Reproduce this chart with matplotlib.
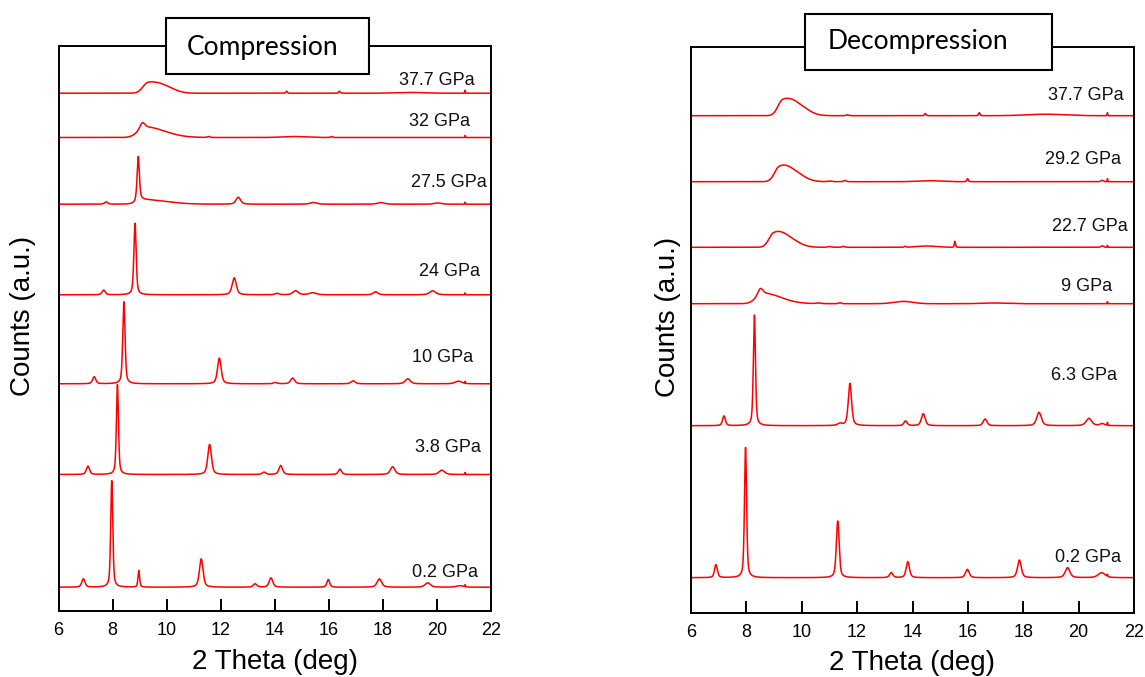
import numpy as np
import matplotlib
matplotlib.use("Agg")
import matplotlib.pyplot as plt
from matplotlib.patches import Rectangle

# ---------------- data ----------------
# Each peak: (2theta position, height above baseline [a.u.], HWHM left, HWHM right, Lorentzian fraction)
x_ticks = [6, 8, 10, 12, 14, 16, 18, 20, 22]

comp_labels = ["0.2 GPa", "3.8 GPa", "10 GPa", "24 GPa", "27.5 GPa", "32 GPa", "37.7 GPa"]
comp_offsets = [23.3, 136.0, 226.7, 315.7, 406.3, 473.0, 517.3]

comp_0_2 = [(6.92, 8.3, 0.07, 0.07, 0.5), (7.97, 106.7, 0.045, 0.045, 0.5), (8.97, 16.7, 0.035, 0.035, 0.5),
            (11.28, 28.3, 0.08, 0.08, 0.5), (13.27, 3.3, 0.08, 0.08, 0.5), (13.86, 9.3, 0.08, 0.08, 0.5),
            (15.98, 7.7, 0.06, 0.06, 0.5), (17.87, 8.3, 0.1, 0.1, 0.5), (19.66, 4.3, 0.12, 0.12, 0.5),
            (20.85, 1.5, 0.15, 0.15, 0.5), (21.04, 2.0, 0.012, 0.012, 0.0)]
comp_3_8 = [(7.09, 8.3, 0.07, 0.07, 0.5), (8.18, 89.7, 0.045, 0.045, 0.5), (11.59, 30.0, 0.08, 0.08, 0.5),
            (13.6, 2.3, 0.08, 0.08, 0.5), (14.22, 9.0, 0.08, 0.08, 0.5), (16.41, 5.3, 0.07, 0.07, 0.5),
            (18.36, 7.7, 0.1, 0.1, 0.5), (20.18, 4.3, 0.12, 0.12, 0.5), (21.04, 2.0, 0.012, 0.012, 0.0)]
comp_10 = [(7.32, 7.0, 0.07, 0.07, 0.5), (8.42, 82.0, 0.05, 0.05, 0.5), (11.95, 25.7, 0.08, 0.08, 0.5),
           (14.02, 1.3, 0.08, 0.08, 0.5), (14.66, 5.7, 0.09, 0.09, 0.5), (16.9, 3.0, 0.09, 0.09, 0.5),
           (18.92, 5.0, 0.11, 0.11, 0.5), (20.79, 2.7, 0.14, 0.14, 0.5), (21.04, 2.0, 0.012, 0.012, 0.0)]
comp_24 = [(7.67, 4.7, 0.07, 0.07, 0.5), (8.83, 71.6, 0.05, 0.05, 0.5), (12.5, 17.0, 0.09, 0.09, 0.5),
           (14.08, 1.5, 0.08, 0.08, 0.5), (14.77, 4.0, 0.12, 0.12, 0.5), (15.4, 2.0, 0.15, 0.15, 0.5),
           (17.73, 3.0, 0.1, 0.1, 0.5), (19.84, 4.0, 0.13, 0.13, 0.5), (21.04, 2.0, 0.012, 0.012, 0.0)]
comp_27_5 = [(7.76, 2.3, 0.07, 0.07, 0.5), (8.95, 44.7, 0.05, 0.05, 0.5), (9.1, 4.5, 0.2, 1.0, 0.0),
             (12.65, 7.0, 0.1, 0.1, 0.5), (15.43, 1.7, 0.15, 0.15, 0.5), (17.92, 1.7, 0.15, 0.15, 0.5),
             (20.03, 1.3, 0.15, 0.15, 0.5), (21.04, 2.0, 0.012, 0.012, 0.0)]
comp_32 = [(9.1, 5.0, 0.1, 0.1, 0.3), (9.2, 10.5, 0.3, 0.85, 0.0), (11.55, 1.0, 0.05, 0.05, 0.5),
           (14.7, 1.0, 0.5, 0.5, 0.0), (16.1, 1.0, 0.04, 0.04, 0.5), (21.04, 2.0, 0.012, 0.012, 0.0)]
comp_37_7 = [(9.3, 9.5, 0.22, 0.35, 0.0), (9.85, 7.5, 0.35, 0.45, 0.0), (14.44, 2.0, 0.03, 0.03, 0.5),
             (16.39, 2.0, 0.03, 0.03, 0.5), (19.0, 0.8, 0.6, 0.6, 0.0), (21.04, 3.0, 0.012, 0.012, 0.0)]
comp_patterns = [comp_0_2, comp_3_8, comp_10, comp_24, comp_27_5, comp_32, comp_37_7]

dec_labels = ["0.2 GPa", "6.3 GPa", "9 GPa", "22.7 GPa", "29.2 GPa", "37.7 GPa"]
dec_offsets = [35.0, 187.0, 309.0, 365.4, 431.0, 497.0]

dec_0_2 = [(6.9, 13.0, 0.06, 0.06, 0.5), (7.97, 130.4, 0.045, 0.045, 0.5), (11.3, 56.7, 0.06, 0.06, 0.5),
           (13.23, 5.0, 0.07, 0.07, 0.5), (13.83, 16.0, 0.07, 0.07, 0.5), (15.98, 8.3, 0.08, 0.08, 0.5),
           (17.86, 17.7, 0.08, 0.08, 0.5), (19.6, 10.0, 0.1, 0.1, 0.5), (20.83, 5.0, 0.15, 0.15, 0.5),
           (21.04, 2.0, 0.012, 0.012, 0.0)]
dec_6_3 = [(7.19, 9.7, 0.06, 0.06, 0.5), (8.29, 110.7, 0.045, 0.045, 0.5), (11.38, 2.0, 0.1, 0.1, 0.5),
           (11.74, 42.3, 0.07, 0.07, 0.5), (13.75, 4.7, 0.07, 0.07, 0.5), (14.39, 12.0, 0.08, 0.08, 0.5),
           (16.62, 6.7, 0.08, 0.08, 0.5), (18.57, 13.3, 0.1, 0.1, 0.5), (20.37, 7.3, 0.12, 0.12, 0.5),
           (20.85, 2.0, 0.1, 0.1, 0.5), (21.04, 3.0, 0.012, 0.012, 0.0)]
dec_9 = [(8.5, 5.5, 0.1, 0.1, 0.3), (8.6, 10.5, 0.28, 0.75, 0.0), (10.6, 0.7, 0.1, 0.1, 0.5),
         (11.38, 1.0, 0.05, 0.05, 0.5), (13.67, 2.3, 0.4, 0.4, 0.0), (16.9, 0.7, 0.5, 0.5, 0.0),
         (21.04, 2.0, 0.012, 0.012, 0.0)]
dec_22_7 = [(8.98, 12.0, 0.2, 0.35, 0.0), (9.45, 9.5, 0.35, 0.45, 0.0), (11.0, 0.7, 0.08, 0.08, 0.5),
            (11.5, 1.0, 0.05, 0.05, 0.5), (13.73, 1.0, 0.03, 0.03, 0.5), (14.5, 1.3, 0.4, 0.4, 0.0),
            (15.53, 6.0, 0.025, 0.025, 0.3), (20.85, 1.5, 0.05, 0.05, 0.5), (21.04, 2.0, 0.012, 0.012, 0.0)]
dec_29_2 = [(9.18, 12.5, 0.2, 0.35, 0.0), (9.65, 10.0, 0.35, 0.45, 0.0), (11.02, 0.7, 0.08, 0.08, 0.5),
            (11.56, 1.3, 0.05, 0.05, 0.5), (14.6, 1.0, 0.5, 0.5, 0.0), (15.99, 3.0, 0.03, 0.03, 0.5),
            (20.85, 1.5, 0.05, 0.05, 0.5), (21.04, 3.0, 0.012, 0.012, 0.0)]
dec_37_7 = [(9.3, 13.5, 0.2, 0.35, 0.0), (9.8, 11.0, 0.35, 0.45, 0.0), (11.65, 1.0, 0.05, 0.05, 0.5),
            (14.46, 2.3, 0.03, 0.03, 0.5), (16.41, 3.0, 0.03, 0.03, 0.5), (18.8, 1.5, 0.8, 0.8, 0.0),
            (21.04, 3.0, 0.012, 0.012, 0.0)]
dec_patterns = [dec_0_2, dec_6_3, dec_9, dec_22_7, dec_29_2, dec_37_7]

# ---------------- drawing ----------------
plt.rcParams['font.family'] = ['Liberation Sans', 'DejaVu Sans']
plt.rcParams['xtick.direction'] = 'in'

two_theta = np.linspace(6, 22, 4001)


def pattern_curve(x, peaks):
    y = np.zeros_like(x)
    for pos, h, wl, wr, eta in peaks:
        w = np.where(x < pos, wl, wr)
        t = (x - pos) / w
        y += h * (eta / (1.0 + t ** 2) + (1.0 - eta) * np.exp(-np.log(2) * t ** 2))
    return y


W, H = 1145, 677
fig = plt.figure(figsize=(W / 100, H / 100), dpi=100)


def px_axes(x0, y0, x1, y1):
    return fig.add_axes([x0 / W, 1 - y1 / H, (x1 - x0) / W, (y1 - y0) / H])


ax1 = px_axes(58.5, 45.7, 491, 610.5)
ax2 = px_axes(691, 47.3, 1134, 612.7)

panels = [
    (ax1, comp_patterns, comp_offsets, comp_labels, 564.8,
     [(20.28, 38.3), (20.41, 162.7), (20.21, 252.7), (20.48, 339.3), (20.45, 428.3), (20.11, 489.3), (19.99, 529.7)]),
    (ax2, dec_patterns, dec_offsets, dec_labels, 565.4,
     [(20.34, 55.4), (20.2, 237.7), (20.27, 326.0), (20.42, 386.0), (20.17, 453.7), (20.25, 517.7)]),
]

for ax, pats, offs, labs, ytop, lab_xy in panels:
    for peaks, off, lab, (lx, ly) in zip(pats, offs, labs, lab_xy):
        ax.plot(two_theta, off + pattern_curve(two_theta, peaks), color='#ff0000', lw=1.1)
        ax.text(lx, ly, lab, ha='center', va='center', fontsize=13, color='#111111')
    ax.set_xlim(6, 22)
    ax.set_ylim(0, ytop)
    ax.set_xticks(x_ticks)
    ax.set_yticks([])
    ax.tick_params(axis='x', which='major', direction='in', length=9, width=1.4,
                   labelsize=13, pad=8, colors='black', bottom=True, top=False)
    for sp in ax.spines.values():
        sp.set_linewidth(1.4)
        sp.set_color('black')

# axis labels
fig.text(23 / W, 1 - 316 / H, "Counts (a.u.)", rotation=90, ha='center', va='center', fontsize=20)
fig.text(668 / W, 1 - 317 / H, "Counts (a.u.)", rotation=90, ha='center', va='center', fontsize=20)
fig.text(274.5 / W, 1 - 662 / H, "2 Theta (deg)", ha='center', va='center', fontsize=20)
fig.text(912 / W, 1 - 663 / H, "2 Theta (deg)", ha='center', va='center', fontsize=20)

# title boxes
for (bx0, by0, bx1, by1), (tx, ty), title in [((165.7, 17.7, 369, 73.7), (263, 47), "Compression"),
                                              ((805, 14, 1052, 70), (918, 42), "Decompression")]:
    rect = Rectangle((bx0 / W, 1 - by1 / H), (bx1 - bx0) / W, (by1 - by0) / H,
                     transform=fig.transFigure, facecolor='white', edgecolor='black', lw=1.5, zorder=5)
    fig.add_artist(rect)
    fig.text(tx / W, 1 - ty / H, title, ha='center', va='center', fontsize=19,
             family=['Lato', 'DejaVu Sans'], zorder=6)

fig.savefig("out.png", dpi=100)
